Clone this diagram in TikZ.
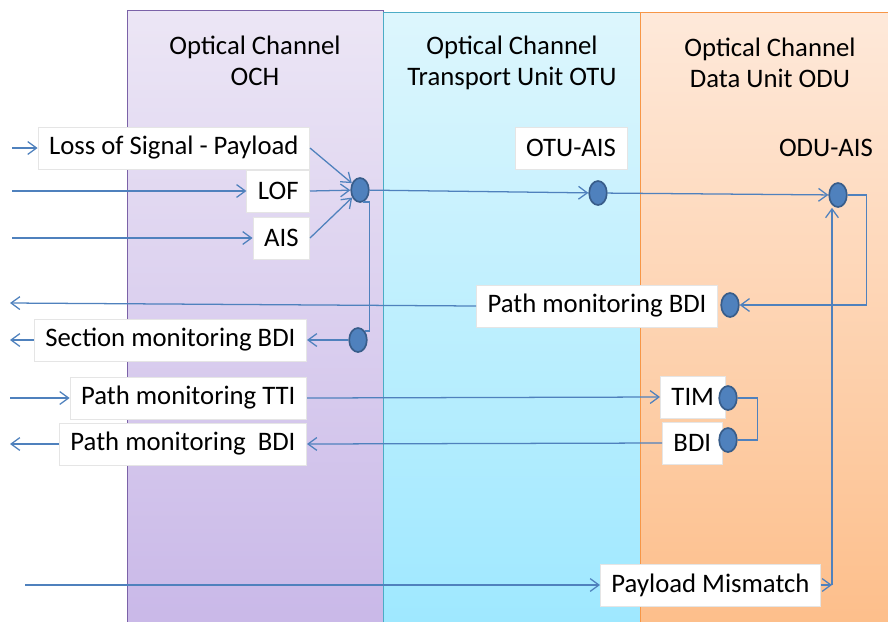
\documentclass[tikz,border=0pt]{standalone}
\usepackage{fontspec}
\setmainfont{Carlito}
\usetikzlibrary{arrows.meta,shapes.geometric}
\definecolor{Line}{HTML}{4F81BD}
\definecolor{DotEdge}{HTML}{385D8A}
\definecolor{OchTop}{HTML}{ECE6F5}
\definecolor{OchBot}{HTML}{C9B8E8}
\definecolor{OchEdge}{HTML}{7B62A8}
\definecolor{OtuTop}{HTML}{DDF6FD}
\definecolor{OtuBot}{HTML}{9EE8FF}
\definecolor{OtuEdge}{HTML}{4BACC6}
\definecolor{OduTop}{HTML}{FEE9DA}
\definecolor{OduBot}{HTML}{FDBE8A}
\definecolor{OduEdge}{HTML}{F79646}

\begin{document}
\begin{tikzpicture}[x=0.025cm, y=-0.025cm,
    font=\fontsize{19pt}{22pt}\selectfont,
    sig/.style={draw=black!10, fill=white, minimum height=1.05cm, inner xsep=0.28cm},
    alarm/.style={ellipse, draw=DotEdge, fill=Line, line width=1.2pt, minimum width=0.44cm, minimum height=0.6cm, inner sep=0pt},
    link/.style={Line, line width=0.9pt},
    arr/.style={link, -{Straight Barb[length=2.2mm,width=3.2mm]}}]
  \useasboundingbox (0,0) rectangle (888,621);
  % layers
  \shade[top color=OchTop, bottom color=OchBot, draw=OchEdge] (127,10) rectangle (383,630);
  \shade[top color=OtuTop, bottom color=OtuBot, draw=OtuEdge] (383,12) rectangle (640,630);
  \shade[top color=OduTop, bottom color=OduBot, draw=OduEdge] (640,12) rectangle (895,630);
  \node[align=center] (och) at (255,61) {Optical Channel\\OCH};
  \node[align=center] (otu) at (512,63) {Optical Channel\\Transport Unit OTU};
  \node[align=center] (odu) at (770,63) {Optical Channel\\Data Unit ODU};

  % signals
  \node[sig, anchor=east] (los) at (310,148) {Loss of Signal - Payload};
  \node[sig, anchor=east] (lof) at (310,191) {LOF};
  \node[sig, anchor=east] (ais) at (310,238) {AIS};
  \node[sig, anchor=east] (secbdi) at (307,340) {Section monitoring BDI};
  \node[sig, anchor=east] (pmtti) at (307,398) {Path monitoring TTI};
  \node[sig, anchor=east] (pmbdi) at (307,444) {Path monitoring\ \ BDI};
  \node[sig] (otuais) at (571,148) {OTU-AIS};
  \node (oduais) at (826,148) {ODU-AIS};
  \node[sig, anchor=east] (odubdi) at (718,306) {Path monitoring BDI};
  \node[sig, anchor=west] (tim) at (660,397) {TIM};
  \node[sig, anchor=west] (bdi) at (662,443) {BDI};
  \node[sig, anchor=west] (plm) at (600,585) {Payload Mismatch};

  \node[alarm] (dA) at (360,190) {};
  \node[alarm] (dB) at (598,193) {};
  \node[alarm] (dC) at (838,195) {};
  \node[alarm] (dD) at (730,305) {};
  \node[alarm] (dE) at (358,340) {};
  \node[alarm] (dF) at (728,398) {};
  \node[alarm] (dG) at (728,440) {};

  \coordinate (inlos) at (12,148);
  \coordinate (inlof) at (12,191);
  \coordinate (inais) at (12,238);
  \coordinate (outpm) at (10,303);
  \coordinate (outsec) at (10,340);
  \coordinate (intti) at (10,398);
  \coordinate (outbdi) at (10,444);
  \coordinate (inplm) at (25,585);
  \coordinate (turn) at (832,585);

  % connectors
  \draw[arr] (inlos) -- (los);
  \draw[arr] (inlof) -- (lof);
  \draw[arr] (inais) -- (ais);
  \draw[arr] (los.east) -- (dA);
  \draw[arr] (lof.east) -- (dA);
  \draw[arr] (ais.east) -- (dA);
  \draw[arr] (dA) -- (dB);
  \draw[arr] (dB) -- (dC);
  \draw[arr] (dC.east) -- ++(19,0) |- (dD.east);
  \draw[arr] (odubdi.west) -- (outpm);
  \draw[link] (dA.-75) -- ++(6,0) |- (dE.north east);
  \draw[arr] (dE.west) -- (secbdi.east);
  \draw[arr] (secbdi.west) -- (outsec);
  \draw[arr] (intti) -- (pmtti.west);
  \draw[arr] (pmtti.east) -- (tim.west);
  \draw[link] (dF.east) -- ++(20,0) |- (dG.east);
  \draw[arr] (bdi.west) -- (pmbdi.east);
  \draw[arr] (pmbdi.west) -- (outbdi);
  \draw[arr] (inplm) -- (plm.west);
  \draw[arr] (plm.east) -- (turn);
  \draw[arr] (turn) -- (turn |- dC.south);
\end{tikzpicture}
\end{document}
